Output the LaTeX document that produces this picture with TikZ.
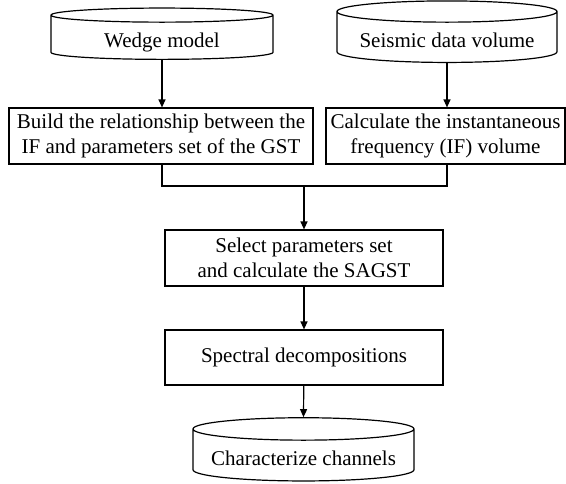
\documentclass[tikz,border=0pt]{standalone}
\usepackage{fontspec}
\setmainfont{Liberation Serif}
\usetikzlibrary{shapes.geometric,arrows.meta}

\begin{document}
\begin{tikzpicture}[x=1pt,y=-1pt]

		% Define styles
		\tikzstyle{process} = [
		rectangle, minimum height=56pt, inner sep=1pt,
		font=\fontsize{21}{25}\selectfont,
		text centered, draw=black, line width=1.2pt, align=center]
		\tikzstyle{data} = [
		cylinder, shape border rotate=90, aspect=0.12,
		minimum height=50pt, inner sep=1pt, text centered,
		font=\fontsize{21}{25}\selectfont,
		text height=24pt, text depth=4.5pt,
		draw=black, line width=1.2pt, align=center]
		\tikzstyle{arrow} = [line width=1.2pt,-{Triangle[length=8pt,width=7pt]}]

		\useasboundingbox (0,0) rectangle (566,483);

		% Nodes
		\node (wedge) [data, minimum width=222pt] at (162,38) {Wedge model};
		\node (seismic) [data, minimum width=220pt] at (447,38) {Seismic data volume};

		\node (build) [process, minimum width=304pt] at (161,136) {
			Build the relationship between the \\
			IF and parameters set of the GST
		};
		\node (freq) [process, minimum width=239pt] at (445.5,136) {
			Calculate the instantaneous \\
			frequency (IF) volume
		};

		\coordinate (join) at (304,186);

		\node (select) [process, minimum width=278pt] at (304,258) {
			Select parameters set \\
			and calculate the SAGST
		};
		\node (spectral) [process, minimum width=278pt, minimum height=55pt] at (304,357.5) {Spectral decompositions};

		\node (channels) [data, minimum width=221pt] at (303.5,456) {Characterize channels};

		% Arrows
		\draw [arrow] (wedge.south) -- (wedge.south |- build.north);
		\draw [arrow] (seismic.south) -- (seismic.south |- freq.north);
		\draw [line width=1.2pt] (wedge.south |- build.south) |- (join) -| (seismic.south |- freq.south);
		\draw [arrow] (join) -- (select);
		\draw [arrow] (select) -- (spectral);
		\draw [arrow] (spectral) -- (channels.north);
	\end{tikzpicture}
\end{document}
